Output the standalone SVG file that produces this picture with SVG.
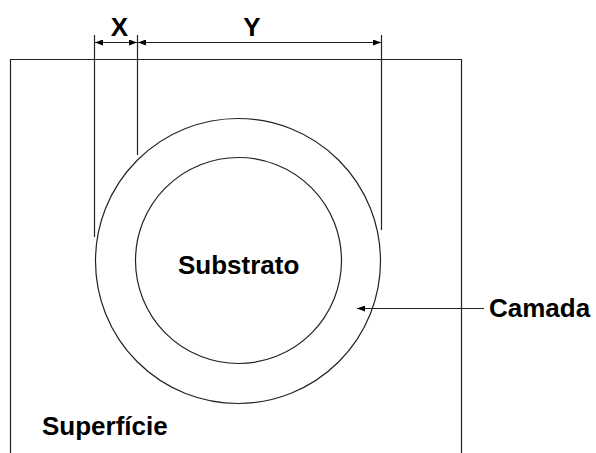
<svg xmlns="http://www.w3.org/2000/svg" width="596" height="453" viewBox="0 0 596 453">
<style>
.ln{fill:none;stroke:#222;stroke-width:1.2}
.t{font-family:"Liberation Sans",Arial,sans-serif;font-weight:bold;font-size:26px;fill:#000}
</style>
<defs>
<marker id="ah" viewBox="0 0 8 6" refX="8" refY="3" markerWidth="8" markerHeight="6" markerUnits="userSpaceOnUse" orient="auto-start-reverse">
<path d="M0,0 L8,3 L0,6 Z" fill="#000"/>
</marker>
</defs>
<rect width="596" height="453" fill="#fff"/>
<g id="superficie">
<path class="ln" d="M10.5,453 V59.5 H461.5 V453"/>
<text class="t" x="42" y="435">Superfície</text>
</g>
<g id="camada">
<circle class="ln" cx="238" cy="261" r="142.5"/>
<text class="t" x="489" y="317">Camada</text>
</g>
<g id="substrato">
<circle class="ln" cx="238.5" cy="260.5" r="103"/>
<text class="t" x="178" y="274">Substrato</text>
</g>
<g id="connectors">
<path class="ln" d="M94.5,35 V237"/>
<path class="ln" d="M137.5,35 V155"/>
<path class="ln" d="M381.5,35 V230"/>
<path class="ln" d="M95,42.5 H137" marker-start="url(#ah)" marker-end="url(#ah)"/>
<path class="ln" d="M138,42.5 H381" marker-start="url(#ah)" marker-end="url(#ah)"/>
<path class="ln" d="M484,308.5 H357" marker-end="url(#ah)"/>
<text class="t" x="119.5" y="36" text-anchor="middle">X</text>
<text class="t" x="252" y="36" text-anchor="middle">Y</text>
</g>
</svg>
